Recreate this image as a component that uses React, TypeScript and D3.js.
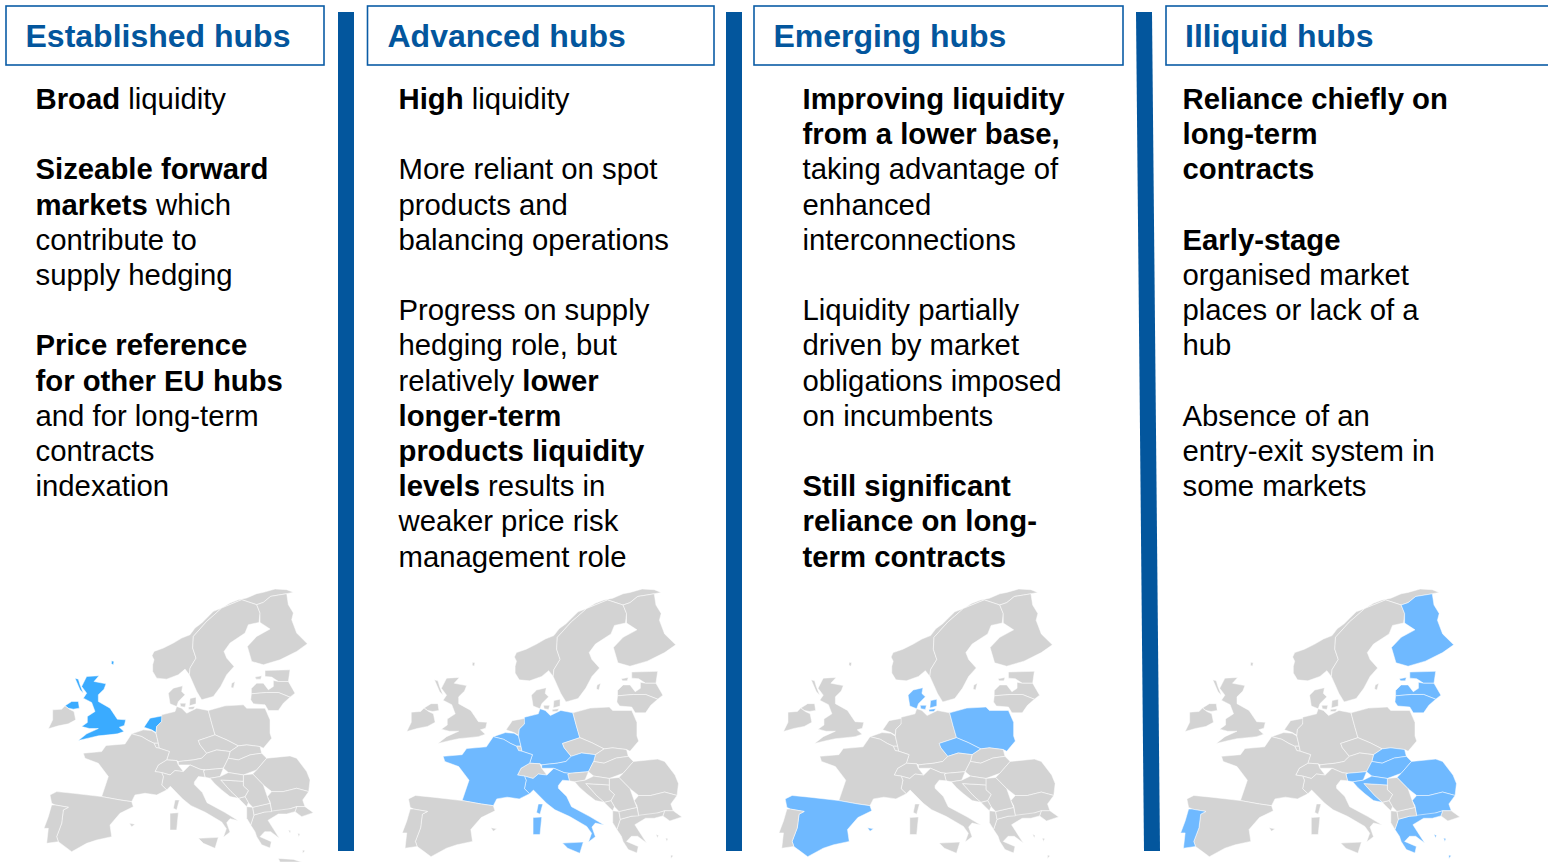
import React from "react";
import * as d3 from "d3";

type P = [number, number];
const FONT = "'Liberation Sans', Arial, sans-serif";
const BLUE = "#03569d";
const GREY = "#d3d3d3";

const headers = ["Established hubs", "Advanced hubs", "Emerging hubs", "Illiquid hubs"];
const headerTextX = [25.5, 387.5, 773.5, 1185];
const bodyX = [35.5, 398.5, 802.5, 1182.5];

// rows: [row index, runs], a run starting with * is bold
const col1: [number, string[]][] = [
  [0, ["*Broad", " liquidity"]],
  [2, ["*Sizeable forward"]],
  [3, ["*markets", " which"]],
  [4, ["contribute to"]],
  [5, ["supply hedging"]],
  [7, ["*Price reference"]],
  [8, ["*for other EU hubs"]],
  [9, ["and for long-term"]],
  [10, ["contracts"]],
  [11, ["indexation"]],
];
const col2: [number, string[]][] = [
  [0, ["*High", " liquidity"]],
  [2, ["More reliant on spot"]],
  [3, ["products and"]],
  [4, ["balancing operations"]],
  [6, ["Progress on supply"]],
  [7, ["hedging role, but"]],
  [8, ["relatively ", "*lower"]],
  [9, ["*longer-term"]],
  [10, ["*products liquidity"]],
  [11, ["*levels", " results in"]],
  [12, ["weaker price risk"]],
  [13, ["management role"]],
];
const col3: [number, string[]][] = [
  [0, ["*Improving liquidity"]],
  [1, ["*from a lower base,"]],
  [2, ["taking advantage of"]],
  [3, ["enhanced"]],
  [4, ["interconnections"]],
  [6, ["Liquidity partially"]],
  [7, ["driven by market"]],
  [8, ["obligations imposed"]],
  [9, ["on incumbents"]],
  [11, ["*Still significant"]],
  [12, ["*reliance on long-"]],
  [13, ["*term contracts"]],
];
const col4: [number, string[]][] = [
  [0, ["*Reliance chiefly on"]],
  [1, ["*long-term"]],
  [2, ["*contracts"]],
  [4, ["*Early-stage"]],
  [5, ["organised market"]],
  [6, ["places or lack of a"]],
  [7, ["hub"]],
  [9, ["Absence of an"]],
  [10, ["entry-exit system in"]],
  [11, ["some markets"]],
];
const columns = [col1, col2, col3, col4];

// Country outlines (map units)
const norway: P[] = [[790,38],[770,30],[735,28],[700,38],[680,42],[650,55],[625,60],[600,70],[575,85],[550,95],[530,115],[515,130],[495,145],[480,165],[455,175],[430,190],[400,205],[372,215],[366,228],[372,240],[368,255],[368,275],[380,295],[410,298],[445,285],[465,268],[478,285],[480,265],[498,235],[488,205],[490,170],[530,125],[545,112],[575,85],[635,60],[680,75],[700,68],[722,50],[770,42]];
const sweden: P[] = [[635,60],[680,75],[690,100],[687,128],[655,135],[645,160],[600,190],[582,215],[590,235],[612,260],[590,285],[572,320],[550,350],[515,360],[500,335],[478,285],[480,265],[498,235],[488,205],[490,170],[530,125],[545,112],[575,85]];
const finland: P[] = [[680,75],[700,68],[722,50],[770,42],[775,75],[790,100],[785,120],[800,160],[832,192],[800,215],[750,240],[700,255],[665,245],[652,200],[680,170],[720,148],[690,128],[690,100]];
const estonia: P[] = [[705,272],[780,270],[775,305],[745,305],[725,292],[705,290]];
const latvia: P[] = [[664,326],[680,310],[700,310],[715,330],[730,320],[730,302],[745,305],[775,305],[795,340],[780,352],[745,338],[710,338],[664,342]];
const lithuania: P[] = [[664,342],[710,338],[745,338],[780,352],[760,370],[745,392],[715,392],[705,375],[670,372],[662,360]];
const saaremaa: P[] = [[675,292],[695,288],[692,298],[678,298]];
const jutland: P[] = [[415,340],[430,325],[458,318],[455,335],[465,345],[445,365],[440,380],[420,372]];
const zealand: P[] = [[480,356],[498,352],[498,372],[478,378]];
const funen: P[] = [[450,370],[468,370],[465,382],[452,380]];
const lolland: P[] = [[475,382],[495,380],[490,388],[476,388]];
const greatBritain: P[] = [[170,290],[207,288],[192,305],[228,312],[222,328],[205,345],[205,365],[240,385],[262,418],[287,420],[283,437],[268,442],[282,455],[262,462],[235,465],[205,468],[178,474],[145,482],[170,462],[205,446],[178,446],[155,440],[172,428],[172,410],[195,395],[185,368],[160,355],[170,340],[155,320],[165,300]];
const hebrides: P[] = [[135,295],[145,298],[150,315],[160,340],[150,330]];
const shetland: P[] = [[245,243],[252,245],[250,255],[244,252]];
const northernIreland: P[] = [[105,378],[125,365],[145,365],[148,385],[130,388],[115,385]];
const ireland: P[] = [[68,390],[95,388],[105,378],[118,388],[132,395],[137,420],[115,432],[85,438],[55,447],[68,420]];
const netherlands: P[] = [[342,442],[360,415],[398,408],[395,425],[380,440],[378,458],[365,450]];
const belgium: P[] = [[305,462],[340,450],[365,452],[378,460],[385,490],[372,490],[355,482],[335,470]];
const luxembourg: P[] = [[372,490],[385,490],[388,505],[378,503]];
const germany: P[] = [[395,405],[435,395],[440,380],[455,385],[470,400],[500,385],[535,392],[545,430],[555,465],[505,482],[510,495],[530,520],[515,535],[490,540],[445,545],[440,542],[410,540],[418,515],[388,505],[385,490],[378,460],[380,440],[395,425]];
const poland: P[] = [[535,392],[585,378],[640,375],[650,385],[705,385],[720,420],[720,460],[725,475],[700,505],[690,500],[650,495],[625,498],[590,480],[555,465],[545,430]];
const czechia: P[] = [[505,482],[555,465],[590,480],[625,498],[600,515],[560,510],[530,520],[510,495]];
const slovakia: P[] = [[600,515],[625,498],[650,495],[690,500],[695,520],[660,525],[625,540],[595,535]];
const austria: P[] = [[445,545],[490,540],[515,535],[530,520],[560,510],[600,515],[595,535],[585,555],[580,565],[525,570],[510,568],[480,555],[445,555]];
const switzerland: P[] = [[375,575],[385,555],[410,540],[440,542],[445,555],[460,575],[435,572],[420,585],[395,578]];
const hungary: P[] = [[595,535],[625,540],[660,525],[695,520],[710,535],[680,570],[640,585],[595,578],[580,565],[585,555]];
const romania: P[] = [[710,535],[780,528],[800,535],[830,575],[840,600],[836,635],[800,625],[760,635],[725,635],[700,615],[668,582],[680,570]];
const bulgaria: P[] = [[725,635],[760,635],[800,625],[836,635],[818,660],[825,680],[800,680],[770,690],[725,695],[720,665],[712,650]];
const turkey: P[] = [[800,680],[825,680],[850,698],[815,710],[795,695]];
const greece: P[] = [[672,705],[704,696],[781,686],[800,680],[795,695],[770,702],[745,702],[714,721],[748,775],[722,755],[704,755],[690,770],[724,785],[720,804],[695,794],[680,770],[675,755],[662,735]];
const albania: P[] = [[650,680],[668,682],[672,705],[662,735],[650,715]];
const macedonia: P[] = [[668,682],[720,670],[725,695],[704,696],[672,705]];
const serbia: P[] = [[640,585],[668,582],[700,615],[712,650],[720,670],[668,682],[655,668],[645,650],[655,632],[640,618]];
const montenegro: P[] = [[625,655],[645,650],[655,668],[650,680],[640,670]];
const bosnia: P[] = [[572,600],[640,604],[640,618],[655,632],[645,650],[625,655],[603,635]];
const slovenia: P[] = [[520,572],[525,570],[580,565],[570,590],[540,595],[525,592]];
const croatia: P[] = [[540,595],[570,590],[595,578],[640,585],[640,604],[572,600],[603,635],[625,655],[600,650],[575,630],[555,612]];
const italy: P[] = [[395,578],[420,585],[435,572],[460,575],[480,555],[510,568],[525,570],[520,572],[525,592],[505,590],[493,606],[493,614],[517,638],[531,668],[584,697],[625,722],[600,716],[590,728],[600,756],[580,772],[589,746],[575,726],[526,697],[483,677],[459,658],[421,619],[410,630],[395,615],[400,590]];
const sicily: P[] = [[505,775],[565,772],[555,805],[520,790]];
const sardinia: P[] = [[420,700],[445,698],[440,750],[420,750]];
const corsica: P[] = [[435,660],[448,660],[440,690],[430,685]];
const france: P[] = [[160,520],[215,515],[228,497],[285,492],[305,462],[335,470],[355,482],[372,490],[378,503],[388,505],[418,515],[410,540],[385,555],[375,575],[395,578],[400,590],[395,615],[410,630],[380,645],[345,640],[315,645],[305,665],[270,660],[215,650],[235,590],[205,550],[165,535]];
const spain: P[] = [[60,645],[80,635],[130,640],[215,650],[270,660],[305,665],[310,680],[270,700],[240,735],[245,770],[200,780],[170,790],[125,815],[105,800],[85,785],[80,770],[95,730],[100,690],[115,682],[75,675],[65,670]];
const portugal: P[] = [[65,675],[75,675],[115,682],[100,690],[95,730],[80,770],[85,785],[50,790],[55,745],[42,745],[55,710]];
const balearic: P[] = [[298,730],[315,733],[305,740]];
const gotland: P[] = [[605,310],[615,305],[610,325],[603,322]];
const crete: P[] = [[745,835],[790,838],[815,846],[750,846]];
const aegean1: P[] = [[775,750],[782,752],[780,760]];
const aegean2: P[] = [[803,760],[810,762],[806,770]];
const rhodes: P[] = [[818,810],[825,812],[818,820]];

const outlines: Record<string, P[][]> = {
  norway: [norway], sweden: [sweden, gotland], finland: [finland],
  estonia: [estonia, saaremaa], latvia: [latvia], lithuania: [lithuania],
  denmark: [jutland, zealand, funen, lolland],
  uk: [greatBritain, hebrides, shetland, northernIreland], ireland: [ireland],
  netherlands: [netherlands], belgium: [belgium], luxembourg: [luxembourg],
  germany: [germany], poland: [poland], czechia: [czechia], slovakia: [slovakia],
  austria: [austria], switzerland: [switzerland], hungary: [hungary],
  romania: [romania], bulgaria: [bulgaria], turkey: [turkey],
  greece: [greece, aegean1, aegean2, rhodes, crete], albania: [albania], macedonia: [macedonia],
  serbia: [serbia], montenegro: [montenegro], bosnia: [bosnia], slovenia: [slovenia],
  croatia: [croatia], italy: [italy, sicily, sardinia], france: [france, corsica],
  spain: [spain, balearic], portugal: [portugal],
};

const highlighted = [
  ["uk", "netherlands"],
  ["germany", "france", "belgium", "austria", "italy"],
  ["denmark", "poland", "czechia", "spain"],
  ["finland", "estonia", "latvia", "lithuania", "slovakia", "hungary", "romania", "bulgaria", "slovenia", "croatia", "greece", "portugal"],
];
const highlightColors = ["#3aabff", "#6fb9ff", "#6fb9ff", "#6fb9ff"];

const mapFrames = [
  { x: [45, 306.7], y: [588, 851.7] },
  { x: [403.3, 675], y: [588, 856.7] },
  { x: [780, 1051.7], y: [588, 856.7] },
  { x: [1181.7, 1453], y: [588, 856.7] },
];

const boxes = [[6, 324], [367.5, 714], [754, 1123], [1166, 1560]];
const dividers = [
  [338, 338],
  [726, 726],
  [1136, 1144],
];

function EuropeMap({ index }: { index: number }) {
  const f = mapFrames[index];
  const sx = d3.scaleLinear().domain([45, 830]).range(f.x);
  const sy = d3.scaleLinear().domain([25, 815]).range(f.y);
  const line = d3.line<P>().x((d) => sx(d[0])).y((d) => sy(d[1])).curve(d3.curveLinearClosed);
  return (
    <g>
      {Object.entries(outlines).map(([name, parts]) => {
        const on = highlighted[index].includes(name);
        return parts.map((p, i) => (
          <path key={name + i} d={line(p) || ""} fill={on ? highlightColors[index] : GREY} stroke="#fff" strokeWidth={0.5} strokeLinejoin="round" />
        ));
      })}
    </g>
  );
}

export default function App() {
  const rowY = d3.scaleLinear().domain([0, 13]).range([109, 566.6]);
  return (
    <svg width={1548} height={862} style={{ position: "absolute", left: 0, top: 0, display: "block" }} fontFamily={FONT}>
      <rect width={1548} height={862} fill="#fff" />
      {boxes.map(([a, b], i) => (
        <rect key={i} x={a} y={6} width={b - a} height={59} fill="#fff" stroke="#0a5ca6" strokeWidth={1.6} />
      ))}
      {dividers.map(([t, b], i) => (
        <polygon key={i} points={`${t},12 ${t + 16},12 ${b + 16},851 ${b},851`} fill={BLUE} />
      ))}
      {headers.map((h, i) => (
        <text key={h} x={headerTextX[i]} y={47} fontSize={32} fontWeight={700} fill={BLUE}>{h}</text>
      ))}
      {columns.map((col, c) =>
        col.map(([row, runs]) => (
          <text key={c + "-" + row} x={bodyX[c]} y={rowY(row)} fontSize={29.3} fill="#000" xmlSpace="preserve">
            {runs.map((r, i) =>
              r.startsWith("*") ? <tspan key={i} fontWeight={700}>{r.slice(1)}</tspan> : <tspan key={i}>{r}</tspan>
            )}
          </text>
        ))
      )}
      {mapFrames.map((_, i) => <EuropeMap key={i} index={i} />)}
    </svg>
  );
}
